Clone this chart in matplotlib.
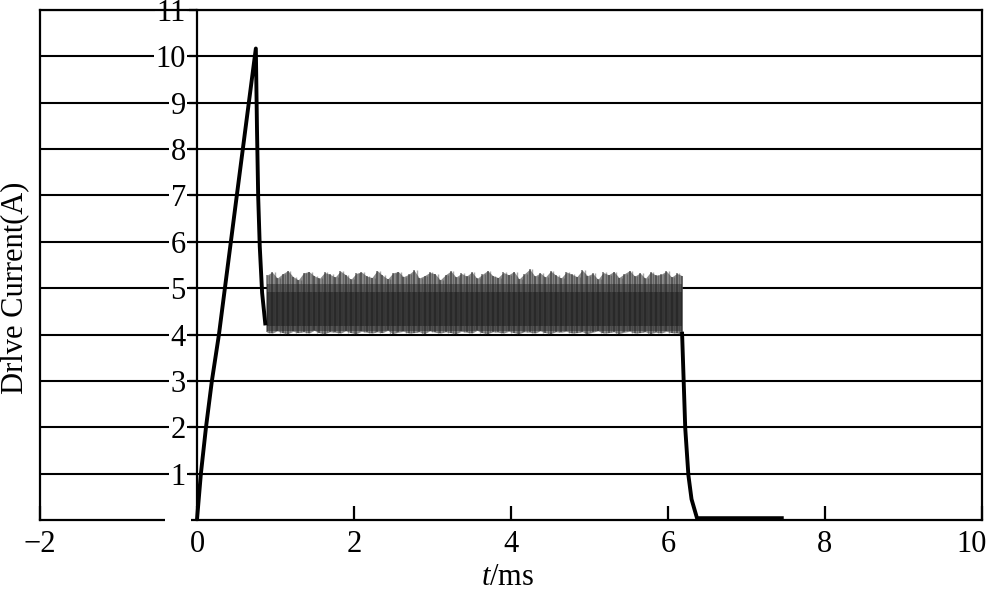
import numpy as np
import matplotlib
matplotlib.use("Agg")
import matplotlib.pyplot as plt
from matplotlib.transforms import ScaledTranslation

plt.rcParams['font.family'] = ['Liberation Serif', 'DejaVu Serif']
plt.rcParams['mathtext.fontset'] = 'custom'
plt.rcParams['mathtext.rm'] = 'Liberation Serif'
plt.rcParams['mathtext.it'] = 'Liberation Serif:italic'

# data
# boost phase: rise to peak, then drop to the hold level
peak_t = [0.0, 0.05, 0.115, 0.19, 0.28, 0.50, 0.75, 0.765, 0.78, 0.80, 0.83, 0.87]
peak_i = [0.0, 1.0, 2.0, 3.0, 4.0, 6.90, 10.17, 8.4, 6.97, 5.9, 4.9, 4.24]

# hold phase: chopping current, upper and lower turning points
chop_hi = [5.28, 5.35, 5.22, 5.31, 5.38, 5.25, 5.18, 5.33, 5.36, 5.27,
           5.21, 5.34, 5.30, 5.24, 5.37, 5.29, 5.19, 5.32, 5.35, 5.26,
           5.23, 5.38, 5.28, 5.20, 5.33, 5.36, 5.25, 5.30, 5.39, 5.22,
           5.27, 5.34, 5.31, 5.18, 5.29, 5.37, 5.24, 5.32, 5.26, 5.35,
           5.21, 5.30, 5.38, 5.27, 5.23, 5.34, 5.29, 5.36, 5.20, 5.31,
           5.41, 5.26, 5.33, 5.24, 5.37, 5.28, 5.22, 5.35, 5.30, 5.25,
           5.39, 5.27, 5.32, 5.19, 5.34, 5.29, 5.36, 5.23, 5.31, 5.38,
           5.26, 5.33, 5.21, 5.35, 5.28, 5.30, 5.37, 5.24, 5.32, 5.27]
chop_lo = [4.05, 4.03, 4.08, 4.04, 4.02, 4.07, 4.04, 4.06, 4.03, 4.09,
           4.04, 4.02, 4.06, 4.05, 4.03, 4.08, 4.04, 4.02, 4.07, 4.05,
           4.03, 4.06, 4.04, 4.09, 4.02, 4.05, 4.07, 4.03, 4.04, 4.06,
           4.02, 4.08, 4.05, 4.03, 4.06, 4.04, 4.02, 4.07, 4.05, 4.03,
           4.09, 4.04, 4.02, 4.06, 4.05, 4.03, 4.07, 4.04, 4.02, 4.06,
           4.05, 4.03, 4.08, 4.04, 4.02, 4.06, 4.05, 4.07, 4.03, 4.04,
           4.06, 4.02, 4.05, 4.08, 4.03, 4.04, 4.06, 4.02, 4.05, 4.07,
           4.03, 4.04, 4.06, 4.02, 4.05, 4.03, 4.07, 4.04, 4.03, 4.02]
chop_start, chop_end = 0.89, 6.18
mid_lo, mid_hi = 4.08, 5.10
core_lo, core_hi = 4.18, 4.92

# turn-off phase
off_t = [6.18, 6.20, 6.22, 6.26, 6.30, 6.37, 7.45]
off_i = [4.02, 3.0, 1.98, 0.97, 0.45, 0.04, 0.04]

yticks = [1, 2, 3, 4, 5, 6, 7, 8, 9, 10, 11]
xticks = [-2, 0, 2, 4, 6, 8, 10]
xlabels = ['\u22122', '0', '2', '4', '6', '8', '10']

fig = plt.figure(figsize=(9.89, 5.9), dpi=100)
ax = fig.add_axes([0.0404, 0.1186, 0.9525, 0.8644])

# chopping band: grey envelope, darker core, vertical streaks
n = len(chop_hi)
t_env = np.linspace(chop_start, chop_end, n)
ax.fill_between(t_env, chop_lo, chop_hi, color='#8a8a8a', lw=0, zorder=3)
ax.fill_between([chop_start, chop_end], mid_lo, mid_hi, color='#555555', lw=0, zorder=3)
ax.fill_between([chop_start, chop_end], core_lo, core_hi, color='#353535', lw=0, zorder=3)
ax.vlines(t_env, chop_lo, chop_hi, color='#1e1e1e', lw=1.4, alpha=0.5, zorder=4)
t_mid = (t_env[:-1] + t_env[1:]) / 2
ax.vlines(t_mid, chop_lo[1:], chop_hi[:-1], color='#3c3c3c', lw=1.0, alpha=0.45, zorder=4)

# boost and turn-off lines
ax.plot(peak_t, peak_i, color='k', lw=2.8, zorder=5)
ax.plot(off_t, off_i, color='k', lw=2.8, zorder=5)

ax.set_xlim(-2, 10)
ax.set_ylim(0, 11)

# y axis sits on t = 0, frame kept at t = -2
ax.spines['left'].set_position(('data', 0))
for side in ['left', 'right', 'top', 'bottom']:
    ax.spines[side].set_linewidth(1.6)
ax.axvline(-2, color='k', lw=1.6, clip_on=False)
# small gap in the base line just left of t = 0
ax.hlines(0, -0.41, -0.08, color='white', lw=3, clip_on=False, zorder=6)

ax.set_yticks(yticks)
ax.set_xticks(xticks)
ax.set_xticklabels(xlabels)
ax.tick_params(axis='y', direction='out', length=6, width=1.6, pad=2, labelsize=22)
ax.xaxis.set_tick_params(which='major', bottom=True, top=False, direction='in',
                         length=10, width=1.6, color='k', pad=7, labelsize=22)
for lab in ax.get_yticklabels():
    lab.set_bbox(dict(facecolor='white', edgecolor='none', pad=1))
last = ax.get_xticklabels()[-1]
last.set_transform(last.get_transform() + ScaledTranslation(-10 / 100, 0, fig.dpi_scale_trans))

ax.grid(axis='y', color='k', lw=1.5)
ax.set_axisbelow(True)

fig.text(15 / 989, 0.513, 'Drlve Current(A)', rotation=90, ha='center', va='center', fontsize=22)
fig.text(508 / 989, 0.022, '$t$/ms', ha='center', va='center', fontsize=22)

fig.savefig('out.png', dpi=100)
